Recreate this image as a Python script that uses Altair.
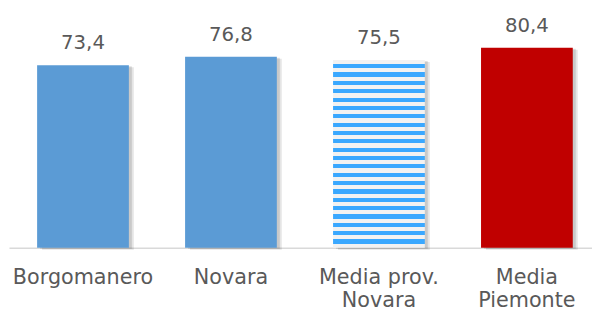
import altair as alt
import pandas as pd

# ---- data ----
categories = ["Borgomanero", "Novara", "Media prov.|Novara", "Media|Piemonte"]
values = [73.4, 76.8, 75.5, 80.4]
kinds = ["solid", "solid", "striped", "red"]

df = pd.DataFrame({"cat": categories, "value": values, "kind": kinds})

# ---- styling ----
FONT = "DejaVu Sans"
TXT = "#595959"
BLUE = "#5B9BD5"
RED = "#C00000"
STRIPE = "#3AA8FF"
LIGHT = "#F2F2F2"
Y_MAX = 90
PLOT_H = 227
PERIOD = 8.6

# striped fill as a hard-stop vertical gradient
striped_h = values[kinds.index("striped")] * PLOT_H / Y_MAX
n = int(round(striped_h / PERIOD - 0.5))
total = n + 0.5
stops = []
for i in range(n):
    a = i / total
    m = (i + 0.5) / total
    b = (i + 1) / total
    stops += [alt.GradientStop(offset=a, color=LIGHT), alt.GradientStop(offset=m, color=LIGHT),
              alt.GradientStop(offset=m, color=STRIPE), alt.GradientStop(offset=b, color=STRIPE)]
stops += [alt.GradientStop(offset=n / total, color=LIGHT), alt.GradientStop(offset=1, color=LIGHT)]
stripe_fill = alt.LinearGradient(gradient="linear", stops=stops, x1=0, y1=0, x2=0, y2=1)

x_enc = alt.X(
    "cat:N", sort=categories,
    scale=alt.Scale(paddingInner=0.38, paddingOuter=0.16, align=0.594),
    axis=alt.Axis(title=None, labelAngle=0, labelExpr="split(datum.label, '|')",
                  domainColor="#D9D9D9", domainWidth=1.5, ticks=False, grid=False,
                  labelFont=FONT, labelFontSize=21, labelColor=TXT, labelPadding=19,
                  labelLineHeight=24, labelOverlap=False),
)
y_enc = alt.Y("value:Q", scale=alt.Scale(domain=[0, Y_MAX]), axis=None)

base = alt.Chart(df).encode(x=x_enc, y=y_enc)

shadow = base.mark_bar(color="#000000", opacity=0.10, xOffset=5, yOffset=2)
shadow2 = base.mark_bar(color="#000000", opacity=0.12, xOffset=3, yOffset=1)

solid = base.transform_filter("datum.kind != 'striped'").mark_bar().encode(
    color=alt.Color("kind:N", scale=alt.Scale(domain=["solid", "red"], range=[BLUE, RED]), legend=None)
)
striped = base.transform_filter("datum.kind == 'striped'").mark_bar(color=stripe_fill)

labels = base.transform_calculate(
    lbl="replace(format(datum.value, '.1f'), '.', ',')"
).mark_text(font=FONT, fontSize=20, color=TXT, baseline="alphabetic", dy=-16).encode(text="lbl:N")

chart = alt.layer(shadow, shadow2, solid, striped, labels).properties(
    width=591, height=PLOT_H,
    autosize=alt.AutoSizeParams(type="none"),
    padding={"left": 1, "top": 14, "right": 0, "bottom": 62},
).configure_view(stroke=None)

chart.save("out.html", embed_options={"renderer": "svg", "actions": False})
